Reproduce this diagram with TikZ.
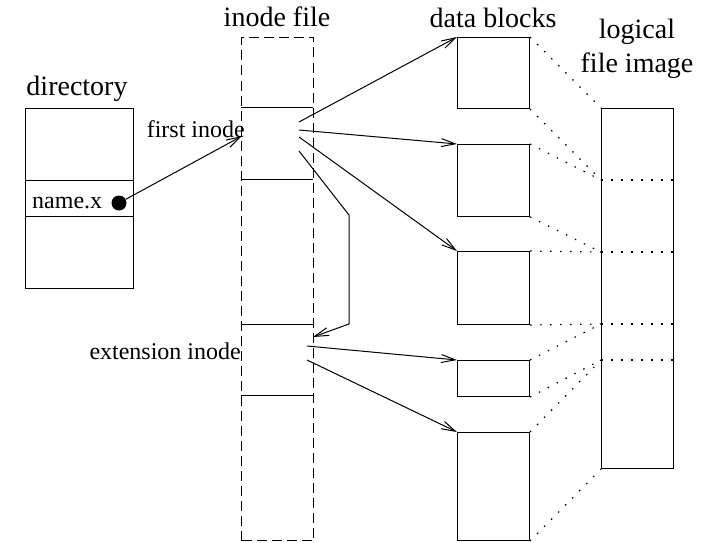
\documentclass[tikz,border=0pt]{standalone}
\usepackage{fontspec}
\setmainfont{Liberation Serif}
\usetikzlibrary{arrows.meta}

\tikzset{
  blk/.style={draw, line width=1pt, inner sep=0pt, anchor=north west},
  conn/.style={line width=1pt, -{Straight Barb[length=14pt,width=8pt]}},
  dots/.style={line width=1.2pt, dash pattern=on 1.5pt off 8.5pt},
  head/.style={font=\fontsize{28}{32}\selectfont, inner sep=0pt},
  lbl/.style={font=\fontsize{24}{28}\selectfont, inner sep=0pt}
}

\begin{document}
\begin{tikzpicture}[x=1pt,y=1pt,yscale=-1,xscale=1]
\useasboundingbox (0,0) rectangle (717,543);
% directory
\node[blk, minimum width=108, minimum height=180] (dir) at (25,108) {};
\draw[line width=1pt] (25,180) -- (133,180);
\draw[line width=1pt] (25,216) -- (133,216);
\node[head, anchor=base] (dirlbl) at (77,95) {directory};
\node[lbl, anchor=base west] (name) at (32,208) {name.x};
\node[circle, fill, minimum size=15, inner sep=0pt] (dot) at (119,203) {};
% inode file
\node[blk, dashed, dash pattern=on 10pt off 5pt, minimum width=72, minimum height=503] (ifile) at (241,37) {};
\node[head, anchor=base] (ifilelbl) at (277,27) {inode file};
\draw[line width=1pt] (241,107) -- (313,107);
\draw[line width=1pt] (241,179) -- (313,179);
\draw[line width=1pt] (241,324) -- (313,324);
\draw[line width=1pt] (241,395) -- (313,395);
\node[lbl, anchor=base east] (filbl) at (245,137) {first inode};
\node[lbl, anchor=base east] (exlbl) at (241,359) {extension inode};
% data blocks
\node[head, anchor=base] (dblbl) at (493,28) {data blocks};
\node[blk, minimum width=72, minimum height=71] (d1) at (457,37) {};
\node[blk, minimum width=72, minimum height=72] (d2) at (457,144) {};
\node[blk, minimum width=72, minimum height=73] (d3) at (457,251) {};
\node[blk, minimum width=72, minimum height=36] (d4) at (457,360) {};
\node[blk, minimum width=72, minimum height=108] (d5) at (457,432) {};
% logical file image
\node[head, anchor=base] (lflbl1) at (637,38) {logical};
\node[head, anchor=base] (lflbl2) at (637,72) {file image};
\node[blk, minimum width=72, minimum height=360] (lf) at (601,108) {};
\coordinate (l1) at (601,180);
\coordinate (l2) at (601,252);
\coordinate (l3) at (601,324);
\coordinate (l4) at (601,360);
\foreach \c in {l1,l2,l3,l4}
  \draw[dots] (\c) -- ++(72,0);
% pointers
\coordinate (fin) at (242,136);
\coordinate (fi1) at (299,122);
\coordinate (fi2) at (299,130);
\coordinate (fi3) at (299,137);
\coordinate (fi4) at (299,151);
\coordinate (bend1) at (349,215);
\coordinate (bend2) at (349,324);
\coordinate (exin) at (313,337);
\coordinate (ex1) at (307,346);
\coordinate (ex2) at (307,360);
\draw[conn] (dot) -- (fin);
\draw[conn] (fi1) -- (d1.north west);
\draw[conn] (fi2) -- (d2.north west);
\draw[conn] (fi3) -- (d3.north west);
\draw[conn] (fi4) -- (bend1) -- (bend2) -- (exin);
\draw[conn] (ex1) -- (d4.north west);
\draw[conn] (ex2) -- (d5.north west);
% mapping to logical image
\draw[dots] (d1.north east) -- (lf.north west);
\draw[dots] (d1.south east) -- (l1);
\draw[dots] (d2.north east) -- (l1);
\draw[dots] (d2.south east) -- (l2);
\draw[dots] (d3.north east) -- (l2);
\draw[dots] (d3.south east) -- (l3);
\draw[dots] (d4.north east) -- (l3);
\draw[dots] (d4.south east) -- (l4);
\draw[dots] (d5.north east) -- (l4);
\draw[dots] (d5.south east) -- (lf.south west);
\end{tikzpicture}
\end{document}
